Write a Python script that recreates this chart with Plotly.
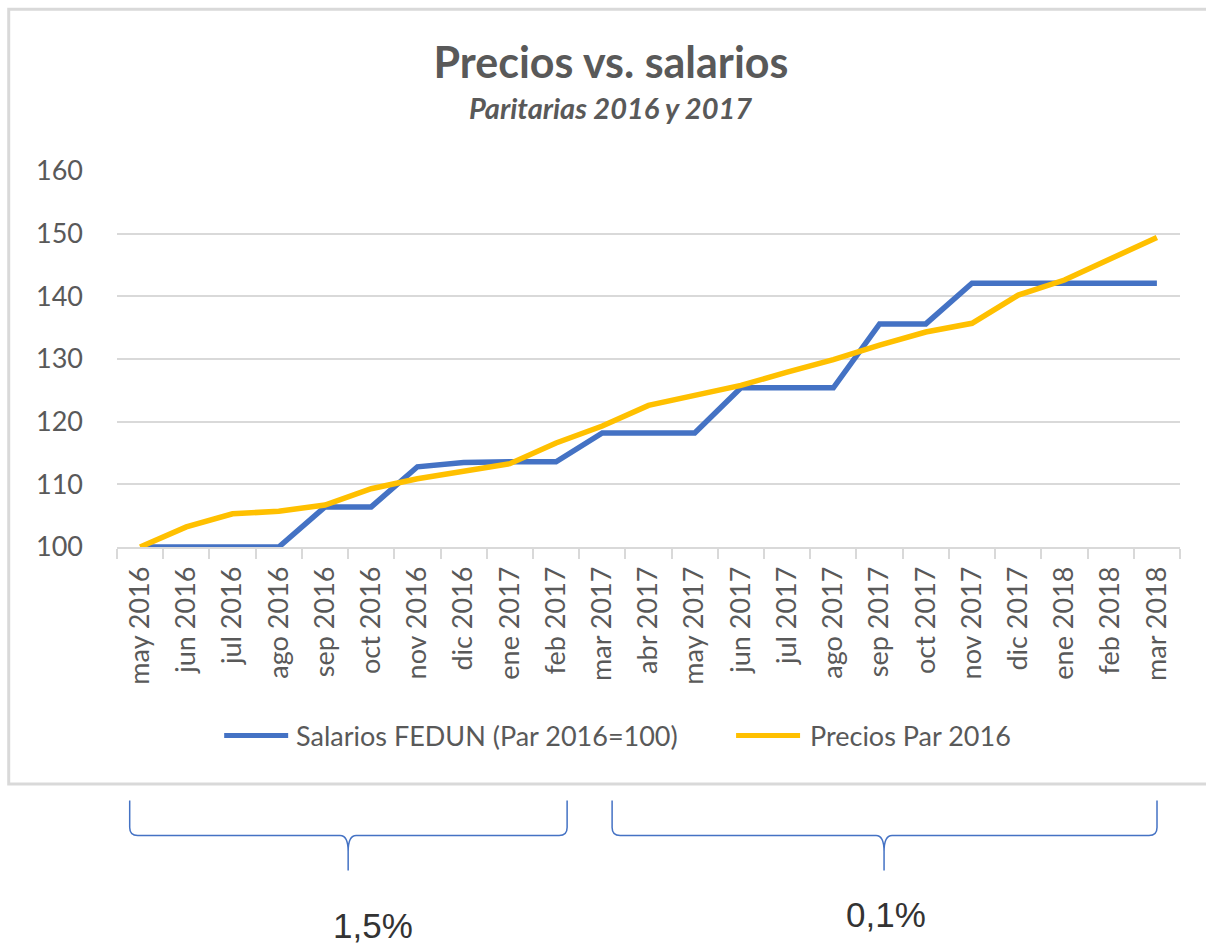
import plotly.graph_objects as go

meses = ["may 2016", "jun 2016", "jul 2016", "ago 2016", "sep 2016", "oct 2016",
         "nov 2016", "dic 2016", "ene 2017", "feb 2017", "mar 2017", "abr 2017",
         "may 2017", "jun 2017", "jul 2017", "ago 2017", "sep 2017", "oct 2017",
         "nov 2017", "dic 2017", "ene 2018", "feb 2018", "mar 2018"]
salarios = [100, 100, 100, 100, 106.4, 106.4, 112.8, 113.5, 113.6, 113.6, 118.2, 118.2,
            118.2, 125.4, 125.4, 125.4, 135.6, 135.6, 142.1, 142.1, 142.1, 142.1, 142.1]
precios = [100, 103.2, 105.3, 105.7, 106.7, 109.3, 110.9, 112.2, 113.3, 116.6, 119.3, 122.6,
           124.1, 125.8, 127.9, 129.9, 132.2, 134.3, 135.7, 140.2, 142.6, 146.1, 149.4]
y_ticks = [100, 110, 120, 130, 140, 150, 160]
nombre_sal = "Salarios FEDUN (Par 2016=100)"
nombre_pre = "Precios Par 2016"
etiquetas_tramo = ["1,5%", "0,1%"]

W, H = 1206, 947
L, R, T, B = 116.8, 1180.0, 171.0, 546.7

def px(x):
    return (x - L) / (R - L)

def py(y):
    return (B - y) / (B - T)

BLUE = "#4472C4"
ORANGE = "#FFC000"
GRAY = "#595959"
GRID = "#D9D9D9"
FONT = "Lato"

fig = go.Figure()
fig.add_trace(go.Scatter(x=meses, y=salarios, mode="lines", name=nombre_sal,
                         line=dict(color=BLUE, width=5.5), showlegend=False))
fig.add_trace(go.Scatter(x=meses, y=precios, mode="lines", name=nombre_pre,
                         line=dict(color=ORANGE, width=5.5), showlegend=False))

shapes = []
# chart border
shapes.append(dict(type="rect", xref="paper", yref="paper",
                   x0=px(8.5), x1=px(1212), y0=py(783.5), y1=py(9.5),
                   line=dict(color=GRID, width=3), fillcolor="rgba(0,0,0,0)", layer="below"))

# legend (manual)
ly = 735
shapes.append(dict(type="line", xref="paper", yref="paper",
                   x0=px(224), x1=px(288), y0=py(ly), y1=py(ly),
                   line=dict(color=BLUE, width=5)))
shapes.append(dict(type="line", xref="paper", yref="paper",
                   x0=px(736), x1=px(800), y0=py(ly), y1=py(ly),
                   line=dict(color=ORANGE, width=5)))

def brace(x1, x2, xc, ytop, ymid, ybot, r=8):
    pts = [
        f"M {px(x1)},{py(ytop)}",
        f"L {px(x1)},{py(ymid - r)}",
        f"Q {px(x1)},{py(ymid)} {px(x1 + r)},{py(ymid)}",
        f"L {px(xc - r)},{py(ymid)}",
        f"Q {px(xc)},{py(ymid)} {px(xc)},{py(ymid + r * 2)}",
        f"L {px(xc)},{py(ybot)}",
        f"M {px(xc)},{py(ymid + r * 2)}",
        f"Q {px(xc)},{py(ymid)} {px(xc + r)},{py(ymid)}",
        f"L {px(x2 - r)},{py(ymid)}",
        f"Q {px(x2)},{py(ymid)} {px(x2)},{py(ymid - r)}",
        f"L {px(x2)},{py(ytop)}",
    ]
    return dict(type="path", xref="paper", yref="paper", path=" ".join(pts),
                line=dict(color=BLUE, width=1.5))

shapes.append(brace(129.5, 567, 348, 800, 835, 870))
shapes.append(brace(612, 1157, 884, 800, 835, 870))

annotations = [
    dict(text="<i><b>Paritarias 2016 y 2017</b></i>", xref="paper", yref="paper",
         x=px(610), y=py(108), xanchor="center", yanchor="middle", showarrow=False,
         font=dict(family=FONT, size=29, color=GRAY)),
    dict(text=nombre_sal, xref="paper", yref="paper", x=px(294), y=py(ly),
         xanchor="left", yanchor="middle", showarrow=False,
         font=dict(family=FONT, size=27, color=GRAY)),
    dict(text=nombre_pre, xref="paper", yref="paper", x=px(808), y=py(ly),
         xanchor="left", yanchor="middle", showarrow=False,
         font=dict(family=FONT, size=27, color=GRAY)),
    dict(text=etiquetas_tramo[0], xref="paper", yref="paper", x=px(373), y=py(925),
         xanchor="center", yanchor="middle", showarrow=False,
         font=dict(family="Liberation Sans", size=35, color="#333333")),
    dict(text=etiquetas_tramo[1], xref="paper", yref="paper", x=px(886), y=py(914),
         xanchor="center", yanchor="middle", showarrow=False,
         font=dict(family="Liberation Sans", size=35, color="#333333")),
]

fig.update_layout(
    width=W, height=H,
    margin=dict(l=L, r=W - R, t=T, b=H - B, autoexpand=False),
    paper_bgcolor="white", plot_bgcolor="white",
    title=dict(text="<b>Precios vs. salarios</b>", x=611 / W, xanchor="center",
               xref="container", yref="container", y=1 - 63 / H, yanchor="middle",
               font=dict(family=FONT, size=43, color=GRAY)),
    shapes=shapes, annotations=annotations, showlegend=False,
)
fig.update_xaxes(type="category", categoryorder="array", categoryarray=meses,
                 range=[-0.5, len(meses) - 0.5], showgrid=False,
                 showline=True, linecolor=GRID, linewidth=1.5,
                 ticks="outside", tickson="boundaries", ticklen=10, tickcolor=GRID, tickwidth=1.5,
                 tickangle=-90, tickfont=dict(family=FONT, size=27, color=GRAY),
                 ticklabelstandoff=7)
fig.update_yaxes(range=[100, 160], tickvals=y_ticks, showgrid=True, gridcolor=GRID,
                 gridwidth=1.5, zeroline=False, showline=False,
                 tickfont=dict(family=FONT, size=27, color=GRAY), ticklabelstandoff=33)

fig.write_html("out.html", config={"displayModeBar": False},
               post_script="document.body.style.margin='0px';document.body.style.overflow='hidden';")
